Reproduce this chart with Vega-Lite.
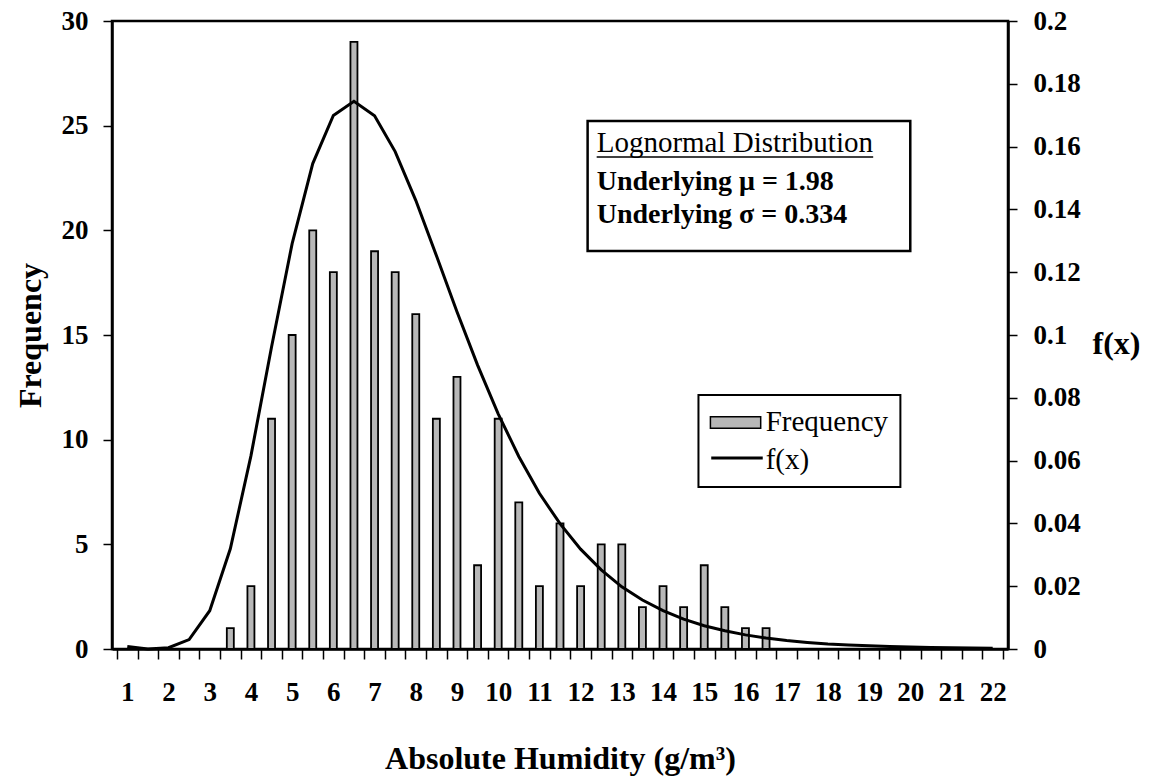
{
  "$schema": "https://vega.github.io/schema/vega-lite/v6.json",
  "width": 896,
  "height": 628,
  "autosize": {"type": "none"},
  "padding": {"left": 112, "top": 21, "right": 141, "bottom": 127},
  "background": "white",
  "config": {
    "view": {"stroke": "black", "strokeWidth": 2.5},
    "font": "Liberation Serif",
    "axis": {
      "labelFont": "Liberation Serif", "labelFontWeight": "bold", "labelFontSize": 27, "labelColor": "black",
      "titleFont": "Liberation Serif", "titleFontWeight": "bold", "titleFontSize": 32, "titleColor": "black",
      "domainColor": "black", "domainWidth": 2.5, "tickColor": "black", "tickWidth": 1.5, "grid": false
    }
  },
  "datasets": {
    "hist": [
      {"x": 1, "freq": 0, "fx": 0.0008},
      {"x": 1.5, "freq": 0, "fx": 0.0000},
      {"x": 2, "freq": 0, "fx": 0.0004},
      {"x": 2.5, "freq": 0, "fx": 0.0030},
      {"x": 3, "freq": 0, "fx": 0.0122},
      {"x": 3.5, "freq": 1, "fx": 0.0319},
      {"x": 4, "freq": 3, "fx": 0.0615},
      {"x": 4.5, "freq": 11, "fx": 0.0962},
      {"x": 5, "freq": 15, "fx": 0.1291},
      {"x": 5.5, "freq": 20, "fx": 0.1546},
      {"x": 6, "freq": 18, "fx": 0.1699},
      {"x": 6.5, "freq": 29, "fx": 0.1744},
      {"x": 7, "freq": 19, "fx": 0.1698},
      {"x": 7.5, "freq": 18, "fx": 0.1584},
      {"x": 8, "freq": 16, "fx": 0.1429},
      {"x": 8.5, "freq": 11, "fx": 0.1253},
      {"x": 9, "freq": 13, "fx": 0.1074},
      {"x": 9.5, "freq": 4, "fx": 0.0904},
      {"x": 10, "freq": 11, "fx": 0.0749},
      {"x": 10.5, "freq": 7, "fx": 0.0613},
      {"x": 11, "freq": 3, "fx": 0.0496},
      {"x": 11.5, "freq": 6, "fx": 0.0399},
      {"x": 12, "freq": 3, "fx": 0.0318},
      {"x": 12.5, "freq": 5, "fx": 0.0252},
      {"x": 13, "freq": 5, "fx": 0.0198},
      {"x": 13.5, "freq": 2, "fx": 0.0156},
      {"x": 14, "freq": 3, "fx": 0.0122},
      {"x": 14.5, "freq": 2, "fx": 0.0095},
      {"x": 15, "freq": 4, "fx": 0.0074},
      {"x": 15.5, "freq": 2, "fx": 0.0058},
      {"x": 16, "freq": 1, "fx": 0.0045},
      {"x": 16.5, "freq": 1, "fx": 0.0035},
      {"x": 17, "freq": 0, "fx": 0.0027},
      {"x": 17.5, "freq": 0, "fx": 0.0021},
      {"x": 18, "freq": 0, "fx": 0.0016},
      {"x": 18.5, "freq": 0, "fx": 0.0013},
      {"x": 19, "freq": 0, "fx": 0.0010},
      {"x": 19.5, "freq": 0, "fx": 0.0008},
      {"x": 20, "freq": 0, "fx": 0.0006},
      {"x": 20.5, "freq": 0, "fx": 0.0005},
      {"x": 21, "freq": 0, "fx": 0.0004},
      {"x": 21.5, "freq": 0, "fx": 0.0003},
      {"x": 22, "freq": 0, "fx": 0.0002}
    ]
  },
  "data": {"name": "hist"},
  "layer": [
    {
      "transform": [{"filter": "datum.freq > 0"}],
      "mark": {"type": "bar", "width": 7, "fill": "#b8b8b8", "stroke": "black", "strokeWidth": 1.8},
      "encoding": {
        "x": {
          "field": "x", "type": "quantitative",
          "scale": {"domain": [0.75, 22.25], "nice": false, "zero": false},
          "axis": {
            "orient": "bottom",
            "values": [1,2,3,4,5,6,7,8,9,10,11,12,13,14,15,16,17,18,19,20,21,22],
            "format": "d", "ticks": false, "tickSize": 0, "labelPadding": 30,
            "labelFlush": false, "labelOverlap": false,
            "title": "Absolute Humidity (g/m³)", "titleY": 119, "titleBaseline": "alphabetic"
          }
        },
        "y": {
          "field": "freq", "type": "quantitative",
          "scale": {"domain": [0, 30], "nice": false},
          "axis": {
            "orient": "left",
            "values": [0, 5, 10, 15, 20, 25, 30], "tickSize": 9, "labelPadding": 15,
            "title": "Frequency", "titleX": -82, "titleY": 314, "titleAngle": -90,
            "titleBaseline": "middle", "titleAlign": "center"
          }
        }
      }
    },
    {
      "mark": {"type": "line", "strokeWidth": 3, "color": "black"},
      "encoding": {
        "x": {
          "field": "x", "type": "quantitative",
          "scale": {"domain": [0.75, 22.25], "nice": false, "zero": false},
          "axis": {
            "orient": "bottom",
            "values": [0.75,1.25,1.75,2.25,2.75,3.25,3.75,4.25,4.75,5.25,5.75,6.25,6.75,7.25,7.75,8.25,8.75,9.25,9.75,10.25,10.75,11.25,11.75,12.25,12.75,13.25,13.75,14.25,14.75,15.25,15.75,16.25,16.75,17.25,17.75,18.25,18.75,19.25,19.75,20.25,20.75,21.25,21.75,22.25],
            "labels": false, "domain": false, "tickSize": 10, "title": null
          }
        },
        "y": {
          "field": "fx", "type": "quantitative",
          "scale": {"domain": [0, 0.2], "nice": false},
          "axis": {
            "orient": "right",
            "values": [0, 0.02, 0.04, 0.06, 0.08, 0.1, 0.12, 0.14, 0.16, 0.18, 0.2],
            "format": "~g", "tickSize": 9, "labelPadding": 16,
            "title": "f(x)", "titleAngle": 0, "titleX": 84, "titleY": 322,
            "titleAlign": "left", "titleBaseline": "middle"
          }
        }
      }
    },
    {
      "data": {"values": [{}]},
      "mark": {"type": "rect", "fill": "white", "stroke": "black", "strokeWidth": 2.5},
      "encoding": {
        "x": {"datum": 12.17, "type": "quantitative", "scale": {"domain": [0.75, 22.25], "nice": false, "zero": false}, "axis": null},
        "x2": {"datum": 20.0},
        "y": {"datum": 25.22, "type": "quantitative", "scale": {"domain": [0, 30], "nice": false}, "axis": null},
        "y2": {"datum": 19.01}
      }
    },
    {
      "data": {"values": [{}]},
      "mark": {"type": "text", "align": "left", "baseline": "middle", "font": "Liberation Serif", "fontSize": 29, "fontWeight": "normal", "color": "black"},
      "encoding": {
        "x": {"datum": 12.39, "type": "quantitative", "scale": {"domain": [0.75, 22.25], "nice": false, "zero": false}, "axis": null},
        "y": {"datum": 24.17, "type": "quantitative", "scale": {"domain": [0, 30], "nice": false}, "axis": null},
        "text": {"value": "Lognormal Distribution"}
      }
    },
    {
      "data": {"values": [{}]},
      "mark": {"type": "rule", "stroke": "black", "strokeWidth": 1.5},
      "encoding": {
        "x": {"datum": 12.39, "type": "quantitative", "scale": {"domain": [0.75, 22.25], "nice": false, "zero": false}, "axis": null},
        "x2": {"datum": 19.1},
        "y": {"datum": 23.5, "type": "quantitative", "scale": {"domain": [0, 30], "nice": false}, "axis": null}
      }
    },
    {
      "data": {"values": [{}]},
      "mark": {"type": "text", "align": "left", "baseline": "middle", "font": "Liberation Serif", "fontSize": 28, "fontWeight": "bold", "color": "black"},
      "encoding": {
        "x": {"datum": 12.39, "type": "quantitative", "scale": {"domain": [0.75, 22.25], "nice": false, "zero": false}, "axis": null},
        "y": {"datum": 22.31, "type": "quantitative", "scale": {"domain": [0, 30], "nice": false}, "axis": null},
        "text": {"value": "Underlying μ = 1.98"}
      }
    },
    {
      "data": {"values": [{}]},
      "mark": {"type": "text", "align": "left", "baseline": "middle", "font": "Liberation Serif", "fontSize": 28, "fontWeight": "bold", "color": "black"},
      "encoding": {
        "x": {"datum": 12.39, "type": "quantitative", "scale": {"domain": [0.75, 22.25], "nice": false, "zero": false}, "axis": null},
        "y": {"datum": 20.73, "type": "quantitative", "scale": {"domain": [0, 30], "nice": false}, "axis": null},
        "text": {"value": "Underlying σ = 0.334"}
      }
    },
    {
      "data": {"values": [{}]},
      "mark": {"type": "rect", "fill": "white", "stroke": "black", "strokeWidth": 2},
      "encoding": {
        "x": {"datum": 14.86, "type": "quantitative", "scale": {"domain": [0.75, 22.25], "nice": false, "zero": false}, "axis": null},
        "x2": {"datum": 19.76},
        "y": {"datum": 12.13, "type": "quantitative", "scale": {"domain": [0, 30], "nice": false}, "axis": null},
        "y2": {"datum": 7.74}
      }
    },
    {
      "data": {"values": [{}]},
      "mark": {"type": "rect", "fill": "#b8b8b8", "stroke": "black", "strokeWidth": 1.5},
      "encoding": {
        "x": {"datum": 15.15, "type": "quantitative", "scale": {"domain": [0.75, 22.25], "nice": false, "zero": false}, "axis": null},
        "x2": {"datum": 16.37},
        "y": {"datum": 11.1, "type": "quantitative", "scale": {"domain": [0, 30], "nice": false}, "axis": null},
        "y2": {"datum": 10.55}
      }
    },
    {
      "data": {"values": [{}]},
      "mark": {"type": "rule", "stroke": "black", "strokeWidth": 3},
      "encoding": {
        "x": {"datum": 15.17, "type": "quantitative", "scale": {"domain": [0.75, 22.25], "nice": false, "zero": false}, "axis": null},
        "x2": {"datum": 16.42},
        "y": {"datum": 9.12, "type": "quantitative", "scale": {"domain": [0, 30], "nice": false}, "axis": null}
      }
    },
    {
      "data": {"values": [{}]},
      "mark": {"type": "text", "align": "left", "baseline": "middle", "font": "Liberation Serif", "fontSize": 29, "fontWeight": "normal", "color": "black"},
      "encoding": {
        "x": {"datum": 16.49, "type": "quantitative", "scale": {"domain": [0.75, 22.25], "nice": false, "zero": false}, "axis": null},
        "y": {"datum": 10.84, "type": "quantitative", "scale": {"domain": [0, 30], "nice": false}, "axis": null},
        "text": {"value": "Frequency"}
      }
    },
    {
      "data": {"values": [{}]},
      "mark": {"type": "text", "align": "left", "baseline": "middle", "font": "Liberation Serif", "fontSize": 29, "fontWeight": "normal", "color": "black"},
      "encoding": {
        "x": {"datum": 16.49, "type": "quantitative", "scale": {"domain": [0.75, 22.25], "nice": false, "zero": false}, "axis": null},
        "y": {"datum": 9.03, "type": "quantitative", "scale": {"domain": [0, 30], "nice": false}, "axis": null},
        "text": {"value": "f(x)"}
      }
    }
  ],
  "resolve": {"scale": {"y": "independent"}, "axis": {"x": "independent"}}
}
